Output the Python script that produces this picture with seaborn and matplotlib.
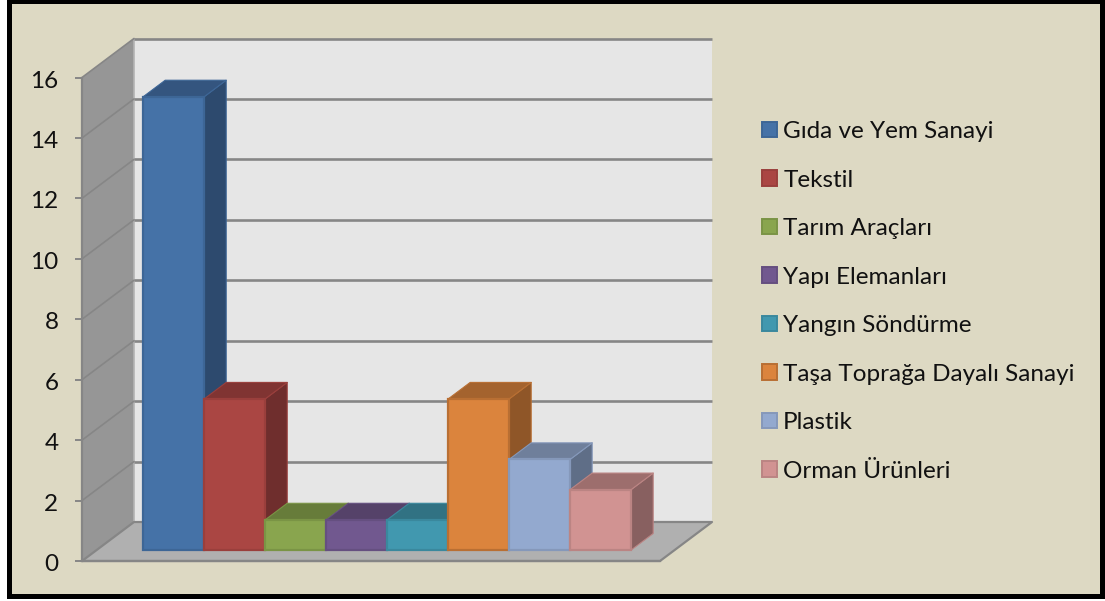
import matplotlib
matplotlib.use("Agg")
import matplotlib.pyplot as plt
from matplotlib.patches import Polygon, Rectangle, Patch
from matplotlib.transforms import ScaledTranslation
import seaborn as sns
import pandas as pd

categories = ["Gıda ve Yem Sanayi", "Tekstil", "Tarım Araçları", "Yapı Elemanları",
              "Yangın Söndürme", "Taşa Toprağa Dayalı Sanayi", "Plastik", "Orman Ürünleri"]
values = [15, 5, 1, 1, 1, 5, 3, 2]
y_ticks = [0, 2, 4, 6, 8, 10, 12, 14, 16]
front_colors = ["#4572a7", "#aa4643", "#89a54e", "#71588f", "#4198af", "#db843d", "#93a9cf", "#d19392"]
top_colors = ["#34557f", "#803432", "#677c3a", "#554269", "#317283", "#a4632e", "#6f7f9b", "#9d6e6d"]
side_colors = ["#2d4a6e", "#6f2e2d", "#5a6c33", "#4a3a5e", "#2a6373", "#8f5628", "#5f6e87", "#886060"]
edge_colors = ["#3d6696", "#9a3f3c", "#7a9445", "#654f80", "#3a889d", "#b96f33", "#8598ba", "#bb8483"]

W, H = 1105, 601
BG = "#ddd9c3"
GRID = "#868686"
sns.set_theme(style="white")
plt.rcParams["font.family"] = ["Lato", "DejaVu Sans"]
FS = 17.5

fig = plt.figure(figsize=(W / 100, H / 100), dpi=100, facecolor="white")
fig.add_artist(Rectangle((8.5 / W, 1 - 595.5 / H), (1102 - 8.5) / W, (595.5 - 0.5) / H,
                         transform=fig.transFigure, facecolor=BG, edgecolor="black",
                         linewidth=3.6, zorder=-5))

L, R, T, B = 82, 660, 77.5, 561
ax = fig.add_axes([L / W, 1 - B / H, (R - L) / W, (B - T) / H])
ax.patch.set_alpha(0)

df = pd.DataFrame({"sector": categories, "value": values})
sns.barplot(data=df, x="sector", y="value", hue="sector", hue_order=categories,
            palette=front_colors, width=1, dodge=False, legend=False, ax=ax, saturation=1)

PX_X, PX_Y = 61.0, (B - T) / 16
X0, X1 = (L - 173.7) / PX_X, (R - 173.7) / PX_X
ax.set_xlim(X0, X1)
ax.set_ylim(0, 16)
DX, DY = 52 / PX_X, 39 / PX_Y       # chart depth
BX, BY = 22 / PX_X, 16.5 / PX_Y     # bar depth
BASE = 11 / PX_Y                    # bar baseline lift above the front of the floor

def poly(pts, fc, ec="none", lw=0, z=1):
    ax.add_patch(Polygon(pts, closed=True, facecolor=fc, edgecolor=ec, linewidth=lw,
                         zorder=z, clip_on=False, joinstyle="round"))

# walls and floor
poly([(X0 + DX, DY), (X1 + DX, DY), (X1 + DX, 16 + DY), (X0 + DX, 16 + DY)], "#e6e6e6", z=1)
poly([(X0, 0), (X0 + DX, DY), (X0 + DX, 16 + DY), (X0, 16)], "#969696", z=1.1)
poly([(X0, 0), (X1, 0), (X1 + DX, DY), (X0 + DX, DY)], "#b0b0b0", GRID, 1.6, z=1.2)
ax.plot([X0 + DX, X0 + DX], [DY, 16 + DY], color="#b4b4b4", lw=1.2, zorder=1.15, clip_on=False)

# gridlines
for v in y_ticks[1:]:
    ax.plot([X0 + DX, X1 + DX], [v + DY, v + DY], color=GRID, lw=1.9, zorder=1.3,
            clip_on=False, solid_capstyle="butt")
    ax.plot([X0, X0 + DX], [v, v + DY], color=GRID, lw=1.2, zorder=1.3, clip_on=False)

# bars: lift the library's fronts and add the depth faces
bars = [c[0] for c in ax.containers]
for i, (p, v) in enumerate(zip(bars, values)):
    z = 2 + i
    p.set_y(BASE)
    p.set(clip_on=False, zorder=z + 0.5, edgecolor=edge_colors[i], linewidth=1.6)
    x0, x1 = p.get_x(), p.get_x() + p.get_width()
    top = BASE + v
    poly([(x1, BASE), (x1 + BX, BASE + BY), (x1 + BX, top + BY), (x1, top)],
         side_colors[i], edge_colors[i], 0.8, z)
    poly([(x0, top), (x1, top), (x1 + BX, top + BY), (x0 + BX, top + BY)],
         top_colors[i], edge_colors[i], 0.8, z + 0.2)

# axes furniture
ax.set_xlabel("")
ax.set_ylabel("")
ax.set_xticks([])
ax.set_yticks(y_ticks)
ax.tick_params(axis="y", length=5, width=1.4, color=GRID, pad=12, labelsize=FS, labelcolor="#111111", left=True)
shift = ScaledTranslation(0, -1.5 / 100, fig.dpi_scale_trans)
for lab in ax.get_yticklabels():
    lab.set_transform(lab.get_transform() + shift)
for s in ["top", "right"]:
    ax.spines[s].set_visible(False)
for s in ["left", "bottom"]:
    ax.spines[s].set(color=GRID, linewidth=1.6, zorder=1.25)

handles = [Patch(facecolor=f, edgecolor=e, linewidth=1.4, label=c)
           for f, e, c in zip(front_colors, edge_colors, categories)]
fig.legend(handles=handles, loc="upper left", bbox_to_anchor=(755 / W, 1 - 114 / H),
           frameon=False, fontsize=FS, labelcolor="#111111", handlelength=0.6, handleheight=0.6,
           handletextpad=0.26, labelspacing=1.13, borderpad=0.3, borderaxespad=0)

fig.savefig("out.png", dpi=100, facecolor="white")
